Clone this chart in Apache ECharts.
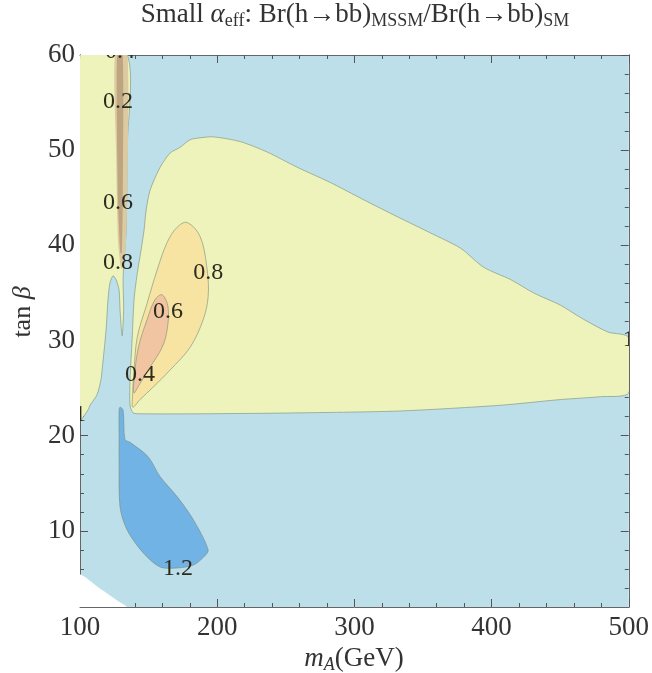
<!DOCTYPE html>
<html><head><meta charset="utf-8">
<script src="https://cdn.jsdelivr.net/npm/echarts@6/dist/echarts.min.js"></script>
<style>html,body{margin:0;padding:0;background:#fff}#c{width:652px;height:673px}</style>
</head><body><div id="c"></div>
<script>
// ---- axis ranges & ticks ----
const xRange = [100, 500];
const yRange = [2, 60];
const yMajorTicks = [10, 20, 30, 40, 50, 60];
const yMinorTicks = [4, 6, 8, 12, 14, 16, 18, 22, 24, 26, 28, 32, 34, 36, 38, 42, 44, 46, 48, 52, 54, 56, 58];

// ---- contour regions [mA, tanBeta] ----
const whiteCorner = [[100,2],[100,5.4],[113,4.1],[126,2.8],[134,2]];
const leftYellow = [[100,60],[134.3,60],[134.3,50],[133.6,41.6],[132.1,38.5],[131.4,36.4],[131.8,33.2],[130.7,30.5],[129.2,33.2],[128.5,35.3],[126.3,36.4],[124.1,36.8],[121.9,36.1],[120.4,34.3],[119,31.1],[116.1,26.9],[115.3,25.9],[112.4,24.3],[107.3,23.2],[105.8,22.7],[100,21.7]];
const tanStrip = [[125.5,60],[134.6,60],[134.4,44.8],[133.6,40.6],[132.1,37.6],[129.9,37.6],[127.7,40.6],[126.3,50]];
const brownStrip = [[127,60],[131.2,60],[131.2,44.8],[130.5,39.2],[129.4,39.2],[127.7,44.8]];
const bigYellow = [[138.7,22.4],[136.5,23.2],[136.5,25.9],[138,30.1],[139.4,34.3],[141.6,36.9],[144.5,39.5],[146.7,41.6],[148.2,43.7],[151.1,45.8],[158.4,48.2],[165.7,49.7],[173,50.3],[180.3,51.1],[187.6,51.3],[197.1,51.4],[216.8,50.9],[236.5,49.8],[258.4,48.2],[282.5,46.6],[306.6,44.8],[331.4,43.0],[355.5,41.3],[377.4,39.7],[394.2,37.7],[413.9,36.4],[430.7,35.0],[450.4,33.7],[465,32.4],[484.7,30.9],[500,30.3],[500,24.5],[479.6,24.1],[450.4,23.8],[406.6,23.2],[333.6,22.6],[260.6,22.4],[187.6,22.3],[143.8,22.3]];
const orangeRegion = [[178.1,42.4],[187.6,40.9],[192.7,37.4],[193.4,34.6],[189.8,32.2],[180.3,29.3],[165.7,26.9],[153.3,25.1],[143.8,23.8],[138.5,23.0],[138.3,24.1],[139.4,26.9],[141.8,30.4],[148.9,33.9],[156.2,37.4],[163.5,40.3],[170.8,41.9]];
const salmonRegion = [[159.9,34.8],[164.2,33.5],[163.5,31.1],[159.9,29.3],[151.1,27.2],[143.8,25.5],[139.3,24.5],[139.6,26.2],[142.6,29.3],[148.9,32.2],[154.7,34.3]];
const darkBlue = [[129.2,23.0],[131.4,22.7],[132.8,19.6],[136.5,19.3],[149.6,17.8],[158.4,15.7],[170.8,13.6],[182.5,11.2],[193.4,8.0],[189.8,7.2],[182.5,6.4],[170.8,6.1],[158.4,6.2],[146,7.7],[134.3,10.1],[129.2,12.5],[128.5,17.1],[128.5,19.9],[128.5,22.7]];

// ---- contour labels ----
const labelX = [129.2, 127.7, 127.7, 127.7, 193.4, 164.2, 143.8, 171.5, 500, 100];
const labelY = [60.3, 55.1, 44.5, 38.2, 37.1, 33.0, 26.4, 6.0, 30.1, 22.2];
const labelText = ['0.4', '0.2', '0.6', '0.8', '0.8', '0.6', '0.4', '1.2', '1', '1'];

const SERIF = "'Liberation Serif','DejaVu Serif',serif";
const chart = echarts.init(document.getElementById('c'), null, {renderer: 'canvas'});

function region(name, pts, fill, smooth, stroke) {
  return {
    type: 'custom', name, clip: true, silent: true,
    data: pts, encode: {x: 0, y: 1},
    renderItem: function (params, api) {
      if (params.dataIndex !== 0) return null;
      return {
        type: 'polygon',
        shape: {points: pts.map(p => api.coord(p)), smooth: smooth},
        style: {fill: fill, stroke: stroke === undefined ? 'rgba(120,140,120,0.6)' : stroke, lineWidth: 1}
      };
    }
  };
}

const labelData = labelX.map((x, i) => [x, labelY[i], labelText[i]]);

const tickCol = '#555';
const baseY = {
  type: 'value', min: yRange[0], max: yRange[1], splitLine: {show: false},
  axisLine: {show: true, lineStyle: {color: '#666'}}
};
const baseX = {
  type: 'value', min: xRange[0], max: xRange[1], interval: 100, splitLine: {show: false},
  axisLine: {show: true, lineStyle: {color: '#666'}},
  axisTick: {inside: true, length: 8, lineStyle: {color: tickCol}},
  minorTick: {show: true, splitNumber: 5, length: 4, lineStyle: {color: tickCol}}
};

chart.setOption({
  animation: false,
  grid: {left: 80, right: 23, top: 55, bottom: 66, show: true, backgroundColor: '#bddfea', borderWidth: 0},
  xAxis: [
    Object.assign({}, baseX, {position: 'bottom',
      axisLabel: {fontFamily: SERIF, fontSize: 27, color: '#333', margin: 7}}),
    Object.assign({}, baseX, {position: 'top', axisLabel: {show: false}})
  ],
  yAxis: [
    Object.assign({}, baseY, {position: 'left',
      axisTick: {inside: true, length: 8, customValues: yMajorTicks, lineStyle: {color: tickCol}},
      axisLabel: {customValues: yMajorTicks, fontFamily: SERIF, fontSize: 27, color: '#333', margin: 5}}),
    Object.assign({}, baseY, {position: 'left',
      axisTick: {inside: true, length: 4, customValues: yMinorTicks, lineStyle: {color: tickCol}},
      axisLabel: {show: false}}),
    Object.assign({}, baseY, {position: 'right',
      axisTick: {inside: true, length: 8, customValues: yMajorTicks, lineStyle: {color: tickCol}},
      axisLabel: {show: false}}),
    Object.assign({}, baseY, {position: 'right',
      axisTick: {inside: true, length: 4, customValues: yMinorTicks, lineStyle: {color: tickCol}},
      axisLabel: {show: false}})
  ],
  series: [
    region('white', whiteCorner, '#ffffff', 0.2, 'none'),
    region('leftYellow', leftYellow, '#eef3bb', 0.25),
    region('tan', tanStrip, '#dccba0', 0.2, 'none'),
    region('brown', brownStrip, '#bea581', 0.2, 'none'),
    region('bigYellow', bigYellow, '#eef3bb', 0.25),
    region('orange', orangeRegion, '#f7e4a2', 0.35),
    region('salmon', salmonRegion, '#f1c5a2', 0.35),
    region('darkBlue', darkBlue, '#72b3e6', 0.3),
    {
      type: 'custom', name: 'labels', clip: true, silent: true,
      data: labelData, encode: {x: 0, y: 1},
      renderItem: function (params, api) {
        const c = api.coord([api.value(0), api.value(1)]);
        return {type: 'text', x: c[0], y: c[1],
          style: {text: labelText[params.dataIndex], fill: '#2b2b1e', font: "24px " + SERIF,
            align: 'center', verticalAlign: 'middle'}};
      }
    }
  ],
  graphic: [
    {type: 'text', x: 355, y: 15, style: {
      text: '{n|Small }{i|α}{s|eff}{n|: Br(h→bb)}{s|MSSM}{n|/Br(h→bb)}{s|SM}',
      align: 'center', verticalAlign: 'middle', fill: '#333',
      rich: {
        n: {fontFamily: SERIF, fontSize: 27, lineHeight: 30, fill: '#333'},
        i: {fontFamily: SERIF, fontSize: 27, fontStyle: 'italic', lineHeight: 30, fill: '#333'},
        s: {fontFamily: SERIF, fontSize: 18, lineHeight: 18, padding: [12, 0, 0, 0], fill: '#333'}
      }}},
    {type: 'text', x: 354, y: 659, style: {
      text: '{i|m}{s|A}{n|(GeV)}', align: 'center', verticalAlign: 'middle',
      rich: {
        n: {fontFamily: SERIF, fontSize: 27, lineHeight: 30, fill: '#333'},
        i: {fontFamily: SERIF, fontSize: 27, fontStyle: 'italic', lineHeight: 30, fill: '#333'},
        s: {fontFamily: SERIF, fontSize: 18, fontStyle: 'italic', lineHeight: 18, padding: [12, 0, 0, 0], fill: '#333'}
      }}},
    {type: 'text', x: 23, y: 312, rotation: Math.PI / 2, style: {
      text: '{n|tan }{i|β}', align: 'center', verticalAlign: 'middle',
      rich: {
        n: {fontFamily: SERIF, fontSize: 26, fill: '#333'},
        i: {fontFamily: SERIF, fontSize: 26, fontStyle: 'italic', fill: '#333'}
      }}}
  ]
});
</script></body></html>
